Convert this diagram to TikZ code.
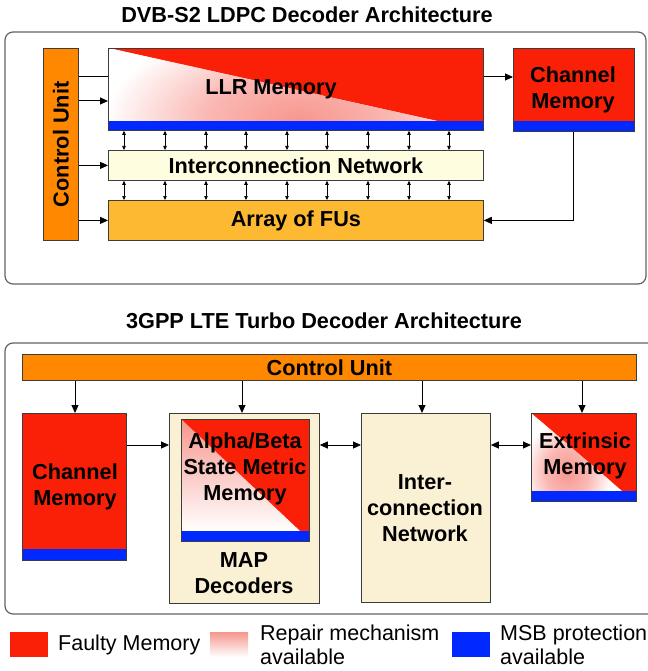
\documentclass[tikz,border=0pt]{standalone}
\usepackage{fontspec}
\setmainfont{Liberation Sans}
\usetikzlibrary{arrows.meta}

\definecolor{faulty}{RGB}{250,32,8}
\definecolor{msb}{RGB}{0,40,255}
\definecolor{ctrl}{RGB}{255,136,0}
\definecolor{fus}{RGB}{253,185,50}
\definecolor{inet}{RGB}{255,253,224}
\definecolor{cream}{RGB}{250,240,212}
\definecolor{edge}{RGB}{60,60,60}
\definecolor{pinkish}{RGB}{246,150,140}

% soft glow used for the repaired part of a memory;
% the shaded path's half extent corresponds to 25bp, where it turns white
\pgfdeclareradialshading{repairglow}{\pgfpoint{0bp}{0bp}}{%
  rgb(0bp)=(0.97,0.59,0.56); rgb(12bp)=(0.98,0.72,0.70); rgb(25bp)=(1,1,1); rgb(50bp)=(1,1,1)}

\tikzset{
  panel/.style={draw=edge!80, line width=1.2pt, rounded corners=8pt},
  blk/.style={draw=edge, line width=0.8pt, inner sep=0pt, anchor=north west},
  lbl/.style={font=\fontsize{21.7}{26}\selectfont\bfseries, align=center, inner sep=0pt},
  ttl/.style={font=\fontsize{21.7}{26}\selectfont\bfseries, inner sep=0pt},
  leg/.style={font=\fontsize{21.5}{24}\selectfont, align=left, inner sep=0pt, anchor=west},
  arr/.style={-{Triangle[length=8pt,width=7pt]}, line width=1pt},
  link/.style={line width=1pt},
  tiny/.style={{Triangle[length=4pt,width=3.5pt]}-{Triangle[length=4pt,width=3.5pt]}, line width=0.6pt},
  both/.style={{Triangle[length=8pt,width=7pt]}-{Triangle[length=8pt,width=7pt]}, line width=1pt},
}

\begin{document}
\begin{tikzpicture}[x=1pt,y=-1pt]
\useasboundingbox (0,0) rectangle (647,671);

% ---------------- DVB-S2 LDPC decoder ----------------
\node[ttl] (t1) at (307,15) {DVB-S2 LDPC Decoder Architecture};
\draw[panel] (5,32) rectangle (646,284);

% LLR memory: faulty area, repaired area and MSB stripe
\fill[faulty] (108,48) rectangle (483,130);
\begin{scope}
  \clip (108,48) -- (437,121) -- (108,121) -- cycle;
  \fill[white] (108,48) rectangle (483,121);
  \shade[shading=repairglow] (105,21) rectangle (495,221);
\end{scope}
\fill[msb] (108,121) rectangle (483,130);
\node[blk, minimum width=375pt, minimum height=82pt] (llr) at (108,48) {};
\node[lbl] (llrtext) at (271,89) {LLR Memory};

% channel memory
\fill[faulty] (513,48) rectangle (634,131);
\fill[msb] (513,121) rectangle (634,131);
\node[blk, minimum width=121pt, minimum height=83pt] (chm) at (513,48) {};
\node[lbl] (chmtext) at (573,90) {Channel\\Memory};

% control unit
\node[blk, fill=ctrl, minimum width=35pt, minimum height=192pt] (cu) at (43,48) {};
\node[lbl, rotate=90] (cutext) at (cu.center) {Control Unit};

% interconnection network and functional units
\node[blk, fill=inet, minimum width=375pt, minimum height=30pt] (net) at (108,150) {};
\node[lbl] (nettext) at (net.center) {Interconnection Network};
\node[blk, fill=fus, minimum width=375pt, minimum height=40pt] (fu) at (108,200) {};
\node[lbl] (futext) at (fu.center) {Array of FUs};

% connections
\draw[link] (cu.east |- 0,77) -- (llr.west |- 0,77);
\draw[arr] (cu.east |- 0,101) -- (llr.west |- 0,101);
\draw[arr] (cu.east |- net.west) -- (net.west);
\draw[arr] (cu.east |- fu.west) -- (fu.west);
\draw[arr] (llr.east |- 0,77) -- (chm.west |- 0,77);
\draw[arr] (chm.south) |- (fu.east);
\foreach \x in {124,165,206,246,287,327,368,409,449}{
  \draw[tiny] (llr.south -| \x,0) -- (net.north -| \x,0);
  \draw[tiny] (net.south -| \x,0) -- (fu.north -| \x,0);
}

% ---------------- 3GPP LTE turbo decoder ----------------
\node[ttl] (t2) at (324,321) {3GPP LTE Turbo Decoder Architecture};
\draw[panel] (5,343) rectangle (660,614);

\node[blk, fill=ctrl, minimum width=614pt, minimum height=26pt] (cu2) at (22,354) {};
\node[lbl] (cu2text) at (cu2.center) {Control Unit};

% channel memory
\fill[faulty] (22,413) rectangle (126,560);
\fill[msb] (22,549) rectangle (126,560);
\node[blk, minimum width=104pt, minimum height=147pt] (chm2) at (22,413) {};
\node[lbl] (chm2text) at (75,487) {Channel\\Memory};

% MAP decoders with state metric memory
\node[blk, fill=cream, minimum width=150pt, minimum height=190pt] (map) at (169,413) {};
\fill[faulty] (181,419) rectangle (309,541);
\begin{scope}
  \clip (181,419) -- (300,531) -- (181,531) -- cycle;
  \shade[top color=pinkish, bottom color=white] (181,419) rectangle (300,531);
\end{scope}
\fill[msb] (181,531) rectangle (309,541);
\node[blk, minimum width=128pt, minimum height=122pt] (sm) at (181,419) {};
\node[lbl] (smtext) at (245,469) {Alpha/Beta\\State Metric\\Memory};
\node[lbl] (maptext) at (244,573) {MAP\\Decoders};

% interconnection network
\node[blk, fill=cream, minimum width=129pt, minimum height=189pt] (net2) at (361,413) {};
\node[lbl] (net2text) at (425,508) {Inter-\\connection\\Network};

% extrinsic memory
\fill[faulty] (531,413) rectangle (636,501);
\begin{scope}
  \clip (531,413) -- (622,491) -- (531,491) -- cycle;
  \fill[white] (531,413) rectangle (636,491);
  \shade[shading=repairglow] (522,420) rectangle (612,524);
\end{scope}
\fill[msb] (531,491) rectangle (636,501);
\node[blk, minimum width=105pt, minimum height=88pt] (ext) at (531,413) {};
\node[lbl] (exttext) at (585,456) {Extrinsic\\Memory};

% connections
\draw[arr] (cu2.south -| 75,0) -- (chm2.north -| 75,0);
\draw[arr] (cu2.south -| 242,0) -- (map.north -| 242,0);
\draw[arr] (cu2.south -| 422,0) -- (net2.north -| 422,0);
\draw[arr] (cu2.south -| 582,0) -- (ext.north -| 582,0);
\draw[arr] (chm2.east |- 0,445) -- (map.west |- 0,445);
\draw[both] (map.east |- 0,445) -- (net2.west |- 0,445);
\draw[both] (net2.east |- 0,445) -- (ext.west |- 0,445);

% ---------------- legend ----------------
\node[blk, draw=none, fill=faulty, minimum width=38pt, minimum height=25pt] (kf) at (10,632) {};
\node[leg] (kftext) at (58,645) {Faulty Memory};
\shade[top color=pinkish, bottom color=white] (210,632) rectangle (248,657);
\node[blk, draw=none, minimum width=38pt, minimum height=25pt] (kr) at (210,632) {};
\node[leg] (krtext) at (260,645) {Repair mechanism\\available};
\node[blk, draw=none, fill=msb, minimum width=38pt, minimum height=25pt] (km) at (452,632) {};
\node[leg] (kmtext) at (500,645) {MSB protection\\available};
\end{tikzpicture}
\end{document}
